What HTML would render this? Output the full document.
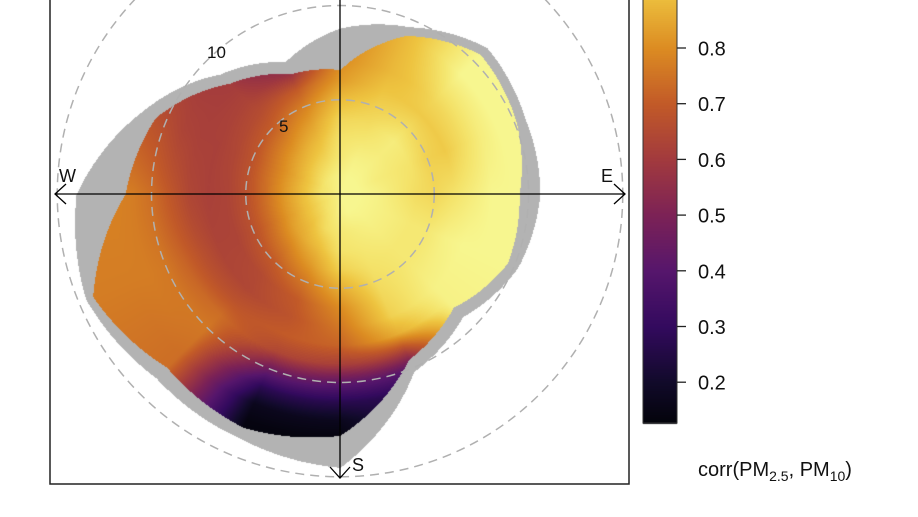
<!DOCTYPE html>
<html><head><meta charset="utf-8">
<style>
body{margin:0;background:#fff;width:918px;height:517px;overflow:hidden;font-family:"Liberation Sans",sans-serif}
#wrap{position:relative;width:918px;height:517px}
canvas{position:absolute;left:0;top:0}
svg{position:absolute;left:0;top:0}
</style></head><body>
<div id="wrap">
<canvas id="heat" width="918" height="517"></canvas>
<svg id="ov" width="918" height="517"></svg>
</div>
<script>
// ---- data ----
const directions = [0,22.5,45,67.5,90,112.5,135,157.5,180,202.5,225,247.5,270,292.5,315,337.5];
const speeds = [0,1,2,3,4,5,6,7,8,9,10,11,12,13,14];
const colorExtent = [6.6,9.1,10.5,10.1,9.5,9.6,8.5,9.5,12.8,13.4,13.0,14.2,11.4,10.6,8.3,6.9];
const grayExtent  = [8.8,9.6,11.0,10.6,10.6,10.2,9.2,10.2,14.5,14.0,13.8,14.6,14.0,11.4,9.0,7.6];
const corrValues = [
 [0.99,0.98,0.96,0.95,0.93,0.89,0.83,0.80,0.78,0.78,0.78,0.78,0.78,0.78,0.78], // N
 [0.99,0.99,0.98,0.96,0.94,0.92,0.90,0.88,0.88,0.88,0.88,0.88,0.88,0.88,0.88], // NNE
 [0.99,0.99,0.98,0.97,0.97,0.94,0.91,0.93,0.96,0.99,0.99,0.99,0.99,0.99,0.99], // NE
 [0.99,0.99,0.97,0.96,0.95,0.92,0.91,0.94,0.97,0.99,0.99,0.99,0.99,0.99,0.99], // ENE
 [0.99,0.99,0.98,0.96,0.94,0.93,0.95,0.97,0.99,0.99,0.99,0.99,0.99,0.99,0.99], // E
 [0.99,0.99,0.98,0.97,0.96,0.96,0.98,0.99,0.99,0.99,0.99,0.99,0.99,0.99,0.99], // ESE
 [0.99,0.99,0.98,0.97,0.96,0.96,0.97,0.98,0.98,0.98,0.98,0.98,0.98,0.98,0.98], // SE
 [0.99,0.99,0.97,0.96,0.95,0.94,0.93,0.92,0.86,0.62,0.40,0.28,0.28,0.28,0.28], // SSE
 [0.99,0.98,0.96,0.95,0.92,0.86,0.80,0.76,0.72,0.62,0.42,0.27,0.17,0.13,0.13], // S
 [0.98,0.96,0.94,0.89,0.83,0.76,0.70,0.68,0.70,0.64,0.46,0.28,0.17,0.14,0.13], // SSW
 [0.98,0.95,0.90,0.85,0.77,0.70,0.65,0.64,0.68,0.74,0.76,0.75,0.74,0.74,0.74], // SW
 [0.98,0.94,0.89,0.82,0.74,0.67,0.63,0.63,0.67,0.72,0.76,0.77,0.77,0.77,0.77], // WSW
 [0.98,0.95,0.89,0.82,0.74,0.67,0.63,0.62,0.64,0.69,0.74,0.77,0.78,0.78,0.78], // W
 [0.98,0.95,0.89,0.82,0.75,0.68,0.64,0.62,0.62,0.63,0.66,0.68,0.68,0.68,0.68], // WNW
 [0.98,0.96,0.91,0.85,0.78,0.71,0.66,0.63,0.61,0.60,0.58,0.58,0.58,0.58,0.58], // NW
 [0.98,0.97,0.93,0.89,0.84,0.78,0.70,0.56,0.46,0.46,0.46,0.46,0.46,0.46,0.46]  // NNW
];
const colorTicks = [0.2,0.3,0.4,0.5,0.6,0.7,0.8,0.9];
const ringValues = [5,10,15];
const ringLabels = ["5","10"];
const scaleStops = [0.125,0.2,0.3,0.4,0.5,0.6,0.7,0.8,0.9,0.95,1.0];
const scaleColors = ["#03030a","#110a2a","#330a5e","#56166c","#7c2256","#a23a3e","#c25a28","#dc8c22","#eec440","#f4e36a","#f8fb98"];

// ---- geometry ----
const cx=340, cy=194, pxPerUnit=18.85;
const panel={l:50,r:629,b:484};
const bar={x:643,w:34,bottom:423,v0:0.8,y0:48,pxPer:557};
function valToY(v){return bar.y0-(v-bar.v0)*bar.pxPer;}
function yToVal(y){return bar.v0+(bar.y0-y)/bar.pxPer;}
function hex(c){return [parseInt(c.substr(1,2),16),parseInt(c.substr(3,2),16),parseInt(c.substr(5,2),16)];}
const sc=scaleColors.map(hex);
function colorOf(v){
  if(v<=scaleStops[0])return sc[0];
  for(let i=1;i<scaleStops.length;i++){ if(v<=scaleStops[i]){const t=(v-scaleStops[i-1])/(scaleStops[i]-scaleStops[i-1]);return sc[i].map((c,k)=>sc[i-1][k]+(c-sc[i-1][k])*t);} }
  return sc[sc.length-1];
}
const nd=directions.length, step=360/nd;
function interpDir(arr,b){const f=b/step;const i=Math.floor(f)%nd;const j=(i+1)%nd;const t=f-Math.floor(f);return arr[i]*(1-t)+arr[j]*t;}
function valueAt(b,s){
  const f=b/step;const i=Math.floor(f)%nd;const j=(i+1)%nd;const t=f-Math.floor(f);
  const si=Math.min(Math.floor(s),speeds.length-2);const u=Math.min(s-si,1);
  const a=corrValues[i][si]*(1-u)+corrValues[i][si+1]*u;
  const c=corrValues[j][si]*(1-u)+corrValues[j][si+1]*u;
  return a*(1-t)+c*t;
}
// ---- heatmap ----
const ctx=document.getElementById('heat').getContext('2d');
const img=ctx.createImageData(918,517);
for(let y=0;y<panel.b;y++){for(let x=panel.l;x<panel.r;x++){
  const dx=x-cx, dy=y-cy; const s=Math.sqrt(dx*dx+dy*dy)/pxPerUnit;
  let b=Math.atan2(dx,-dy)*180/Math.PI; if(b<0)b+=360;
  const ce=interpDir(colorExtent,b), ge=interpDir(grayExtent,b);
  let col=null;
  if(s<=ce) col=colorOf(valueAt(b,s)); else if(s<=ge) col=[179,179,179];
  if(col){const p=(y*918+x)*4;img.data[p]=col[0];img.data[p+1]=col[1];img.data[p+2]=col[2];img.data[p+3]=255;}
}}
for(let y=0;y<=bar.bottom;y++){const col=colorOf(yToVal(y));for(let x=bar.x;x<bar.x+bar.w;x++){const p=(y*918+x)*4;img.data[p]=col[0];img.data[p+1]=col[1];img.data[p+2]=col[2];img.data[p+3]=255;}}
ctx.putImageData(img,0,0);

// ---- overlay ----
const svg=document.getElementById('ov');const NS='http://www.w3.org/2000/svg';
function mk(tag,attrs,name,text){const e=document.createElementNS(NS,tag);for(const k in attrs)e.setAttribute(k,attrs[k]);


if(text!==undefined)e.textContent=text;svg.appendChild(e);return e;}
const clip=document.createElementNS(NS,'clipPath');clip.setAttribute('id','pc');const cr=document.createElementNS(NS,'rect');
cr.setAttribute('x',panel.l);cr.setAttribute('y',0);cr.setAttribute('width',panel.r-panel.l);cr.setAttribute('height',panel.b);clip.appendChild(cr);svg.appendChild(clip);
ringValues.forEach(v=>{mk('circle',{cx:cx,cy:cy,r:v*pxPerUnit,fill:'none',stroke:'#b0b0b0','stroke-width':1.5,'stroke-dasharray':'9 6','clip-path':'url(#pc)'},'speed-ring-'+v);});
mk('text',{x:207,y:58,'font-size':17,fill:'#111'},'ring-label-10',ringLabels[1]);
mk('text',{x:279,y:132,'font-size':17,fill:'#111'},'ring-label-5',ringLabels[0]);
mk('line',{x1:55,y1:cy,x2:625,y2:cy,stroke:'#000','stroke-width':1.3},'ew-axis');
mk('line',{x1:cx,y1:0,x2:cx,y2:478,stroke:'#000','stroke-width':1.3},'ns-axis');
mk('polyline',{points:'66,184 55,194 66,204',fill:'none',stroke:'#000','stroke-width':1.3},'west-arrow');
mk('polyline',{points:'614,184 625,194 614,204',fill:'none',stroke:'#000','stroke-width':1.3},'east-arrow');
mk('polyline',{points:'330,467 340,478 350,467',fill:'none',stroke:'#000','stroke-width':1.3},'south-arrow');
mk('text',{x:59,y:182,'font-size':18,fill:'#111'},'west-label','W');
mk('text',{x:601,y:182,'font-size':18,fill:'#111'},'east-label','E');
mk('text',{x:352,y:471,'font-size':18,fill:'#111'},'south-label','S');
mk('polyline',{points:panel.l+',0 '+panel.l+','+panel.b+' '+panel.r+','+panel.b+' '+panel.r+',0',fill:'none',stroke:'#222','stroke-width':1.5},'panel-border');
mk('rect',{x:bar.x,y:-2,width:bar.w,height:bar.bottom+2,fill:'none',stroke:'#333','stroke-width':1},'colorbar-border');
colorTicks.forEach(v=>{const y=valToY(v);
  mk('line',{x1:bar.x+bar.w,y1:y,x2:bar.x+bar.w+9,y2:y,stroke:'#222','stroke-width':1.3},'colorbar-tick-'+v);
  mk('text',{x:698,y:y+7.5,'font-size':20,fill:'#111'},'colorbar-label-'+v,v.toFixed(1));});
const t=mk('text',{x:698,y:476,'font-size':20,fill:'#111'},'colorbar-title');
t.innerHTML='corr(PM<tspan dy="5" font-size="14">2.5</tspan><tspan dy="-5">, PM</tspan><tspan dy="5" font-size="14">10</tspan><tspan dy="-5">)</tspan>';
</script>
</body></html>
